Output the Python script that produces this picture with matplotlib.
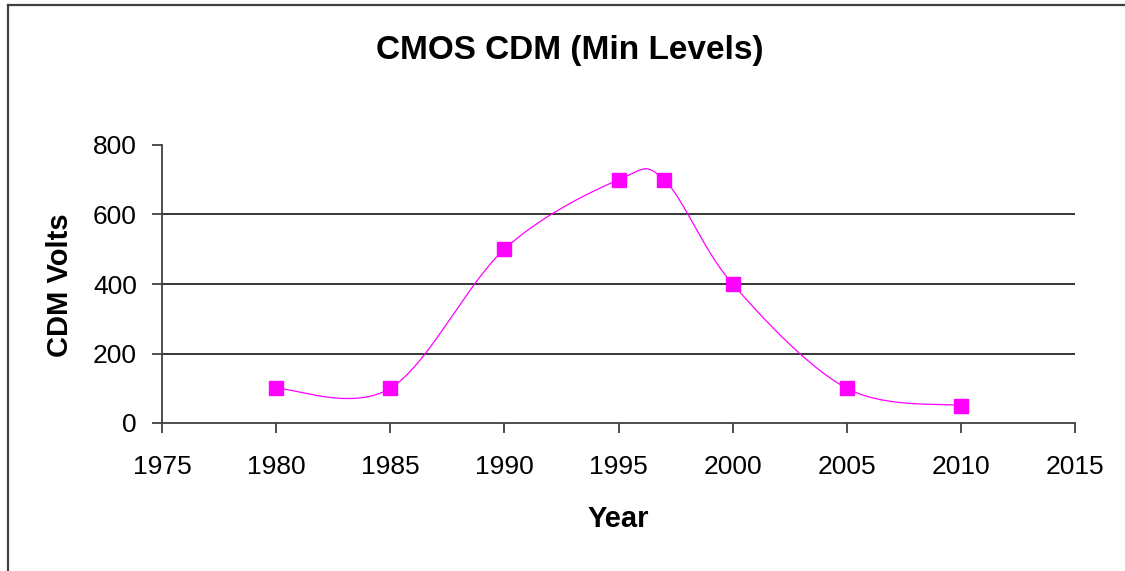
import matplotlib.pyplot as plt
from matplotlib.lines import Line2D
import numpy as np

years = [1980, 1985, 1990, 1995, 1997, 2000, 2005, 2010]
cdm_volts = [100, 100, 500, 700, 700, 400, 100, 50]
x_ticks = [1975, 1980, 1985, 1990, 1995, 2000, 2005, 2010, 2015]
y_ticks = [0, 200, 400, 600, 800]

plt.rcParams['font.family'] = ['Liberation Sans', 'DejaVu Sans']

W, H = 1125, 571
fig = plt.figure(figsize=(W / 100, H / 100), dpi=100)
ax = fig.add_axes([162 / W, 1 - 423 / H, 913 / W, 278 / H])
ax.set_xlim(1975, 2015)
ax.set_ylim(0, 800)


def smooth(xs, ys, sx, sy, n=40):
    # excel-like smoothed line: catmull-rom bezier in screen units
    p = np.column_stack([np.array(xs) * sx, np.array(ys) * sy])
    p = np.vstack([p[0], p, p[-1]])
    out = []
    for i in range(1, len(p) - 2):
        p0, p1, p2, p3 = p[i - 1], p[i], p[i + 1], p[i + 2]
        c1 = p1 + (p2 - p0) / 6
        c2 = p2 - (p3 - p1) / 6
        t = np.linspace(0, 1, n)[:, None]
        seg = (1 - t) ** 3 * p1 + 3 * (1 - t) ** 2 * t * c1 + 3 * (1 - t) * t ** 2 * c2 + t ** 3 * p2
        out.append(seg)
    out = np.vstack(out)
    return out[:, 0] / sx, out[:, 1] / sy


sx = 913 / 40
sy = 278 / 800
cx, cy = smooth(years, cdm_volts, sx, sy)
ax.plot(cx, cy, color='#FF00FF', lw=0.9, zorder=3)
ax.plot(years, cdm_volts, 's', color='#FF00FF', markersize=9.5, zorder=4)

for v in y_ticks[1:-1]:
    ax.axhline(v, color='black', lw=1.1, zorder=1)

ax.set_xticks(x_ticks)
ax.set_yticks(y_ticks)
ax.tick_params(labelsize=19, length=7, width=1.3, color='#404040', direction='out')
ax.tick_params(axis='y', pad=11)
ax.tick_params(axis='x', pad=16)
for s in ['top', 'right']:
    ax.spines[s].set_visible(False)
for s in ['left', 'bottom']:
    ax.spines[s].set_color('#404040')
    ax.spines[s].set_linewidth(1.3)

fig.text(570 / W, 1 - 51 / H, 'CMOS CDM (Min Levels)', ha='center', va='center',
         fontsize=24, fontweight='bold')
fig.text(618 / W, 1 - 519 / H, 'Year', ha='center', va='center',
         fontsize=21, fontweight='bold')
fig.text(60 / W, 1 - 285 / H, 'CDM Volts', ha='center', va='center',
         fontsize=21, fontweight='bold', rotation=90)

# chart border (only top and left visible)
fig.add_artist(Line2D([8 / W, 1], [1 - 5 / H, 1 - 5 / H], transform=fig.transFigure,
                      color='#404040', lw=1.6))
fig.add_artist(Line2D([8 / W, 8 / W], [1 - 5 / H, 0], transform=fig.transFigure,
                      color='#404040', lw=1.6))

fig.savefig('out.png', dpi=100)
